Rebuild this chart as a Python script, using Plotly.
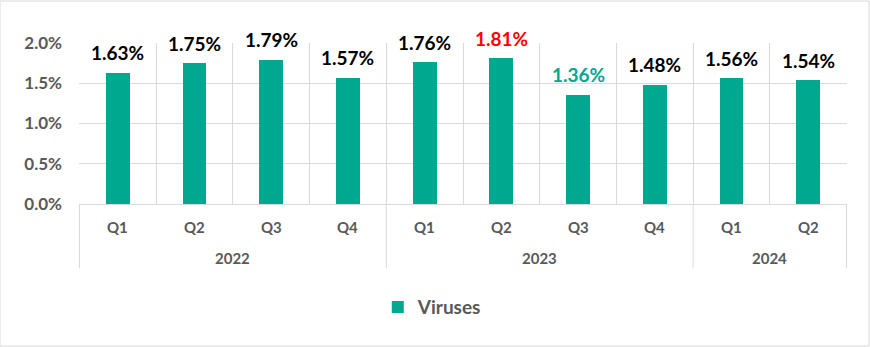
import plotly.graph_objects as go

years = ["2022", "2022", "2022", "2022", "2023", "2023", "2023", "2023", "2024", "2024"]
quarters = ["Q1", "Q2", "Q3", "Q4", "Q1", "Q2", "Q3", "Q4", "Q1", "Q2"]
virus_share = [1.63, 1.75, 1.79, 1.57, 1.76, 1.81, 1.36, 1.48, 1.56, 1.54]
label_colors = ["#000000", "#000000", "#000000", "#000000", "#000000",
                "#FF0000", "#00A88F", "#000000", "#000000", "#000000"]

teal = "#00A88F"
grey_text = "#595959"
grid = "#D9D9D9"
font_family = "Lato, Calibri, Carlito, sans-serif"

values = [v / 100 for v in virus_share]
labels = [f"{v:.2f}%" for v in virus_share]

fig = go.Figure()
fig.add_trace(go.Bar(
    x=[years, quarters],
    y=values,
    name="Viruses",
    marker=dict(color=teal, line=dict(width=0)),
    width=0.31,
))

# value labels floating above each bar
for i, (val, txt, col) in enumerate(zip(values, labels, label_colors)):
    fig.add_annotation(
        x=i, y=val, xref="x", yref="y",
        text=f"<b>{txt}</b>",
        showarrow=False,
        yanchor="middle",
        yshift=20,
        font=dict(family=font_family, size=19, color=col),
    )

# two-level category axis: quarter row, year row and year dividers
axis_font = dict(family=font_family, size=15, color=grey_text)
for i, q in enumerate(quarters):
    fig.add_annotation(
        x=i, y=0, xref="x", yref="paper",
        text=f"<b>{q}</b>", showarrow=False,
        yanchor="middle", yshift=-23, font=axis_font,
    )

groups = []
for i, yr in enumerate(years):
    if not groups or groups[-1][0] != yr:
        groups.append([yr, i, i])
    else:
        groups[-1][2] = i

divider_depth = -64 / 161
for yr, first, last in groups:
    fig.add_annotation(
        x=(first + last) / 2, y=0, xref="x", yref="paper",
        text=f"<b>{yr}</b>", showarrow=False,
        yanchor="middle", yshift=-54, font=axis_font,
    )
    fig.add_shape(type="line", xref="x", yref="paper",
                  x0=first - 0.5, x1=first - 0.5, y0=0, y1=divider_depth,
                  line=dict(color=grid, width=1))
last_edge = len(years) - 0.5
fig.add_shape(type="line", xref="x", yref="paper",
              x0=last_edge, x1=last_edge, y0=0, y1=divider_depth,
              line=dict(color=grid, width=1))

fig.update_layout(
    width=870,
    height=347,
    margin=dict(l=79, r=23, t=43, b=143),
    paper_bgcolor="white",
    plot_bgcolor="white",
    font=dict(family=font_family, color=grey_text),
    showlegend=True,
    legend=dict(
        orientation="h",
        x=0.46, xanchor="center",
        y=-0.64, yanchor="middle",
        font=dict(size=19, color=grey_text, weight="bold"),
        itemwidth=30,
    ),
    bargap=0,
)
fig.update_xaxes(
    type="multicategory",
    showgrid=True,
    gridcolor=grid,
    gridwidth=1,
    tickson="boundaries",
    showline=True,
    linecolor=grid,
    linewidth=1,
    showdividers=False,
    showticklabels=False,
    ticks="",
)
fig.update_yaxes(
    range=[0, 0.02],
    dtick=0.005,
    tickformat=".1%",
    showgrid=True,
    gridcolor=grid,
    gridwidth=1,
    zeroline=False,
    showline=False,
    ticks="",
    ticklabelstandoff=16,
    tickfont=dict(size=17, color=grey_text, weight="bold"),
)
# thin frame around the whole chart
fig.add_shape(type="rect", xref="paper", yref="paper",
              x0=-79 / 768, x1=1 + 22 / 768, y0=-142 / 161, y1=1 + 42 / 161,
              line=dict(color=grid, width=1), fillcolor="rgba(0,0,0,0)", layer="below")

fig.write_html("out.html")
